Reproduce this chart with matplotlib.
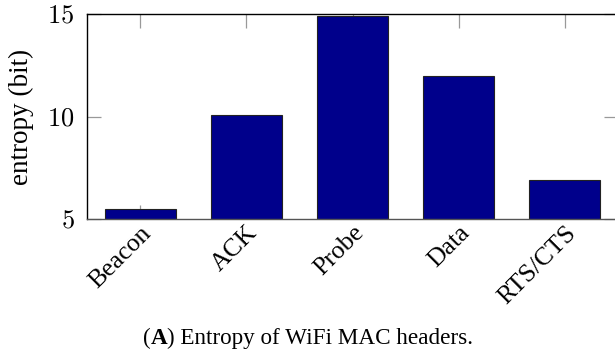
import numpy as np
import matplotlib
matplotlib.use("Agg")
import matplotlib.pyplot as plt
import matplotlib.transforms as mtransforms
from matplotlib.ticker import FuncFormatter

categories = ["Beacon", "ACK", "Probe", "Data", "RTS/CTS"]
entropy = [5.5, 10.1, 14.9, 12.0, 6.9]
yticks = [5, 10, 15]

plt.rcParams['font.family'] = ['Liberation Serif', 'DejaVu Serif']
plt.rcParams['mathtext.fontset'] = 'cm'

W, H = 615, 350
fig = plt.figure(figsize=(6.15, 3.5), dpi=100)
ax = fig.add_axes([87 / W, 1 - 219 / H, (618 - 87) / W, (219 - 14.3) / H])

x = np.arange(len(categories))
ax.bar(x, [v - 5 for v in entropy], bottom=5, width=0.67, color='#00008b',
       edgecolor='#222222', linewidth=0.8, zorder=2)

ax.set_xlim(-0.5, len(categories) - 0.5)
ax.set_ylim(5, 15)
ax.set_yticks(yticks)
ax.yaxis.set_major_formatter(FuncFormatter(lambda v, p: r'$%d$' % v))
ax.set_xticks(x)
ax.set_xticklabels(categories, rotation=45, ha='right', va='top',
                   rotation_mode='anchor', fontsize=18.5)
shift = mtransforms.ScaledTranslation(7 / 100, 2 / 100, fig.dpi_scale_trans)
for lab in ax.get_xticklabels():
    lab.set_transform(lab.get_transform() + shift)
ax.set_axisbelow(True)
ax.tick_params(axis='both', direction='in', length=10, color='#999999', width=0.9,
               top=True, right=True)
ax.tick_params(axis='x', pad=2)
ax.tick_params(axis='y', pad=9, labelsize=19)
for s in ['top', 'left', 'right']:
    ax.spines[s].set_color('black')
    ax.spines[s].set_linewidth(1.0)
ax.spines['bottom'].set_color('#555555')
ax.spines['bottom'].set_linewidth(1.0)

ax.set_ylabel('entropy (bit)', fontsize=19.5)
ax.yaxis.set_label_coords(-(87 - 21) / (618 - 87), (219 - 116.5) / (219 - 14.3))
ax.yaxis.label.set_va('center')

fig.canvas.draw()
r = fig.canvas.get_renderer()
# caption with bold letter
xpos = 143
parts = [('(', 'normal'), ('A', 'bold'), (') Entropy of WiFi MAC headers.', 'normal')]
for txt, w in parts:
    t = fig.text(xpos / W, 1 - 338 / H, txt, ha='left', va='center',
                 fontsize=16.7, fontweight=w)
    bb = t.get_window_extent(renderer=r)
    xpos += bb.width

fig.savefig('out.png', dpi=100)
